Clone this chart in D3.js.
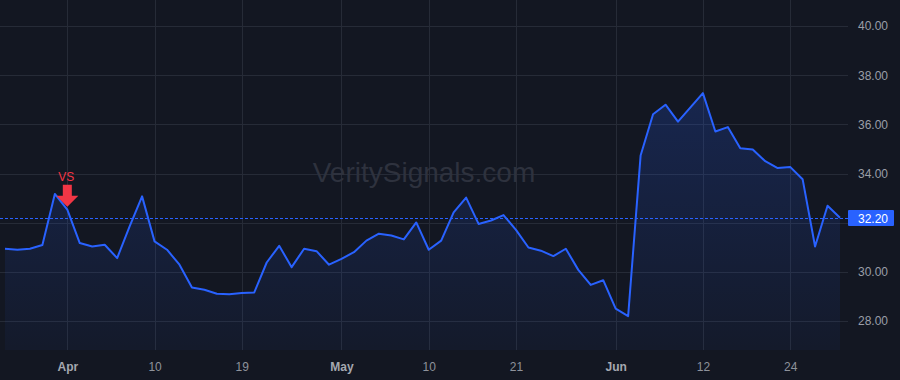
<!DOCTYPE html>
<html>
<head>
<meta charset="utf-8">
<script src="https://cdn.jsdelivr.net/npm/d3@7"></script>
<style>
  html, body { margin: 0; padding: 0; background: #131722; }
  svg { display: block; font-family: "Liberation Sans", Arial, sans-serif; }
</style>
</head>
<body>
<svg id="chart" width="900" height="380"></svg>
<script>
// trading days, 2024
const dates = [
  "2024-03-22","2024-03-25","2024-03-26","2024-03-27","2024-03-28",
  "2024-04-01","2024-04-02","2024-04-03","2024-04-04","2024-04-05",
  "2024-04-08","2024-04-09","2024-04-10","2024-04-11","2024-04-12",
  "2024-04-15","2024-04-16","2024-04-17","2024-04-18","2024-04-19",
  "2024-04-22","2024-04-23","2024-04-24","2024-04-25","2024-04-26",
  "2024-04-29","2024-04-30","2024-05-01","2024-05-02","2024-05-03",
  "2024-05-06","2024-05-07","2024-05-08","2024-05-09","2024-05-10",
  "2024-05-13","2024-05-14","2024-05-15","2024-05-16","2024-05-17",
  "2024-05-20","2024-05-21","2024-05-22","2024-05-23","2024-05-24",
  "2024-05-28","2024-05-29","2024-05-30","2024-05-31",
  "2024-06-03","2024-06-04","2024-06-05","2024-06-06","2024-06-07",
  "2024-06-10","2024-06-11","2024-06-12","2024-06-13","2024-06-14",
  "2024-06-17","2024-06-18","2024-06-20","2024-06-21",
  "2024-06-24","2024-06-25","2024-06-26","2024-06-27","2024-06-28"
];

const closes = [
  30.94, 30.90, 30.94, 31.09, 33.17,
  32.53, 31.17, 31.03, 31.10, 30.56,
  31.85, 33.07, 31.24, 30.90, 30.29,
  29.36, 29.27, 29.11, 29.09, 29.14,
  29.16, 30.38, 31.06, 30.19, 30.94,
  30.84, 30.29, 30.53, 30.80, 31.27,
  31.55, 31.48, 31.32, 32.01, 30.90,
  31.27, 32.42, 33.02, 31.95, 32.09,
  32.31, 31.71, 30.99, 30.86, 30.64,
  30.94, 30.08, 29.47, 29.66,
  28.50, 28.20, 34.73, 36.41, 36.80,
  36.11, 36.69, 37.27, 35.71, 35.89,
  35.03, 34.98, 34.50, 34.22,
  34.27, 33.77, 31.03, 32.69, 32.20
];

const xTicks = ["2024-04-01","2024-04-10","2024-04-19","2024-05-01","2024-05-10",
                "2024-05-21","2024-06-03","2024-06-12","2024-06-24"];
const xTickLabels = ["Apr","10","19","May","10","21","Jun","12","24"];
const monthTicks = ["Apr","May","Jun"];

const yGrid = [28, 30, 32, 34, 36, 38, 40];
const yLabels = [28, 30, 34, 36, 38, 40]; // 32.00 sits under the price badge
const lastPrice = 32.20;
const signalDate = "2024-04-01";
const signalText = "VS";

const svg = d3.select("#chart");
const plotRight = 848, plotBottom = 350;

const x = d3.scalePoint().domain(dates).range([5, 840]);
const y = d3.scaleLinear().domain([26.82, 41.06]).range([plotBottom, 0]);

const data = dates.map((d, i) => ({ date: d, v: closes[i] }));

// grid
const grid = svg.append("g");
grid.selectAll("line.h").data(yGrid).join("line")
  .attr("x1", 0).attr("x2", plotRight)
  .attr("y1", d => Math.round(y(d)) + 0.5).attr("y2", d => Math.round(y(d)) + 0.5)
  .attr("stroke", "#262b37").attr("stroke-width", 1);
grid.selectAll("line.v").data(xTicks).join("line")
  .attr("x1", d => Math.round(x(d)) + 0.5).attr("x2", d => Math.round(x(d)) + 0.5)
  .attr("y1", 0).attr("y2", plotBottom)
  .attr("stroke", "#262b37").attr("stroke-width", 1);

// watermark
svg.append("text")
  .attr("x", 424).attr("y", 182)
  .attr("text-anchor", "middle")
  .attr("font-size", 28)
  .attr("fill", "#2e323e")
  .text("VeritySignals.com");

// area
const defs = svg.append("defs");
const grad = defs.append("linearGradient")
  .attr("id", "areaGrad")
  .attr("gradientUnits", "userSpaceOnUse")
  .attr("x1", 0).attr("x2", 0)
  .attr("y1", y(d3.max(closes))).attr("y2", plotBottom);
grad.append("stop").attr("offset", 0).attr("stop-color", "#2962ff").attr("stop-opacity", 0.2);
grad.append("stop").attr("offset", 1).attr("stop-color", "#2962ff").attr("stop-opacity", 0.04);

const area = d3.area()
  .x(d => x(d.date))
  .y0(plotBottom)
  .y1(d => y(d.v));
svg.append("path").datum(data)
  .attr("d", area)
  .attr("fill", "url(#areaGrad)");

// last price line
const lpY = Math.round(y(lastPrice)) + 0.5;
svg.append("line")
  .attr("x1", 0).attr("x2", plotRight)
  .attr("y1", lpY).attr("y2", lpY)
  .attr("stroke", "#2962ff").attr("stroke-width", 1)
  .attr("stroke-dasharray", "3,2");

// price line
const line = d3.line()
  .x(d => x(d.date))
  .y(d => y(d.v));
svg.append("path").datum(data)
  .attr("d", line)
  .attr("fill", "none")
  .attr("stroke", "#2962ff")
  .attr("stroke-width", 2)
  .attr("stroke-linejoin", "round");

// y axis (right)
const yAxis = d3.axisRight(y).tickValues(yLabels).tickFormat(d3.format(".2f")).tickSize(0).tickPadding(10);
const yg = svg.append("g").attr("transform", `translate(${plotRight},0)`).call(yAxis);
yg.select(".domain").remove();
yg.selectAll("text").attr("font-size", 12).attr("fill", "#9a9ea8").attr("font-family", null);

// last price badge
svg.append("rect")
  .attr("x", plotRight).attr("y", lpY - 8.5)
  .attr("width", 46).attr("height", 16)
  .attr("rx", 1)
  .attr("fill", "#2962ff");
svg.append("text")
  .attr("x", plotRight + 10).attr("y", lpY + 4)
  .attr("font-size", 12).attr("fill", "#ffffff")
  .text(lastPrice.toFixed(2));

// x axis
const xAxis = d3.axisBottom(x).tickValues(xTicks)
  .tickFormat(d => xTickLabels[xTicks.indexOf(d)]).tickSize(0).tickPadding(12);
const xg = svg.append("g").attr("transform", `translate(0,${plotBottom})`).call(xAxis);
xg.select(".domain").remove();
xg.selectAll("text")
  .attr("font-size", 12)
  .attr("font-family", null)
  .attr("fill", d => monthTicks.includes(xTickLabels[xTicks.indexOf(d)]) ? "#a5a8b0" : "#8e929b")
  .attr("font-weight", d => monthTicks.includes(xTickLabels[xTicks.indexOf(d)]) ? "bold" : "normal");

// signal marker
const sx = x(signalDate);
const sv = closes[dates.indexOf(signalDate)];
const tipY = y(sv) - 3;
svg.append("path")
  .attr("d", `M${sx - 4.5},${tipY - 22} L${sx + 4.5},${tipY - 22} L${sx + 4.5},${tipY - 11}
              L${sx + 11},${tipY - 11} L${sx},${tipY} L${sx - 11},${tipY - 11} L${sx - 4.5},${tipY - 11} Z`)
  .attr("fill", "#f23645");
svg.append("text")
  .attr("x", sx - 1).attr("y", tipY - 26)
  .attr("text-anchor", "middle")
  .attr("font-size", 12)
  .attr("fill", "#f23645")
  .text(signalText);
</script>
</body>
</html>
